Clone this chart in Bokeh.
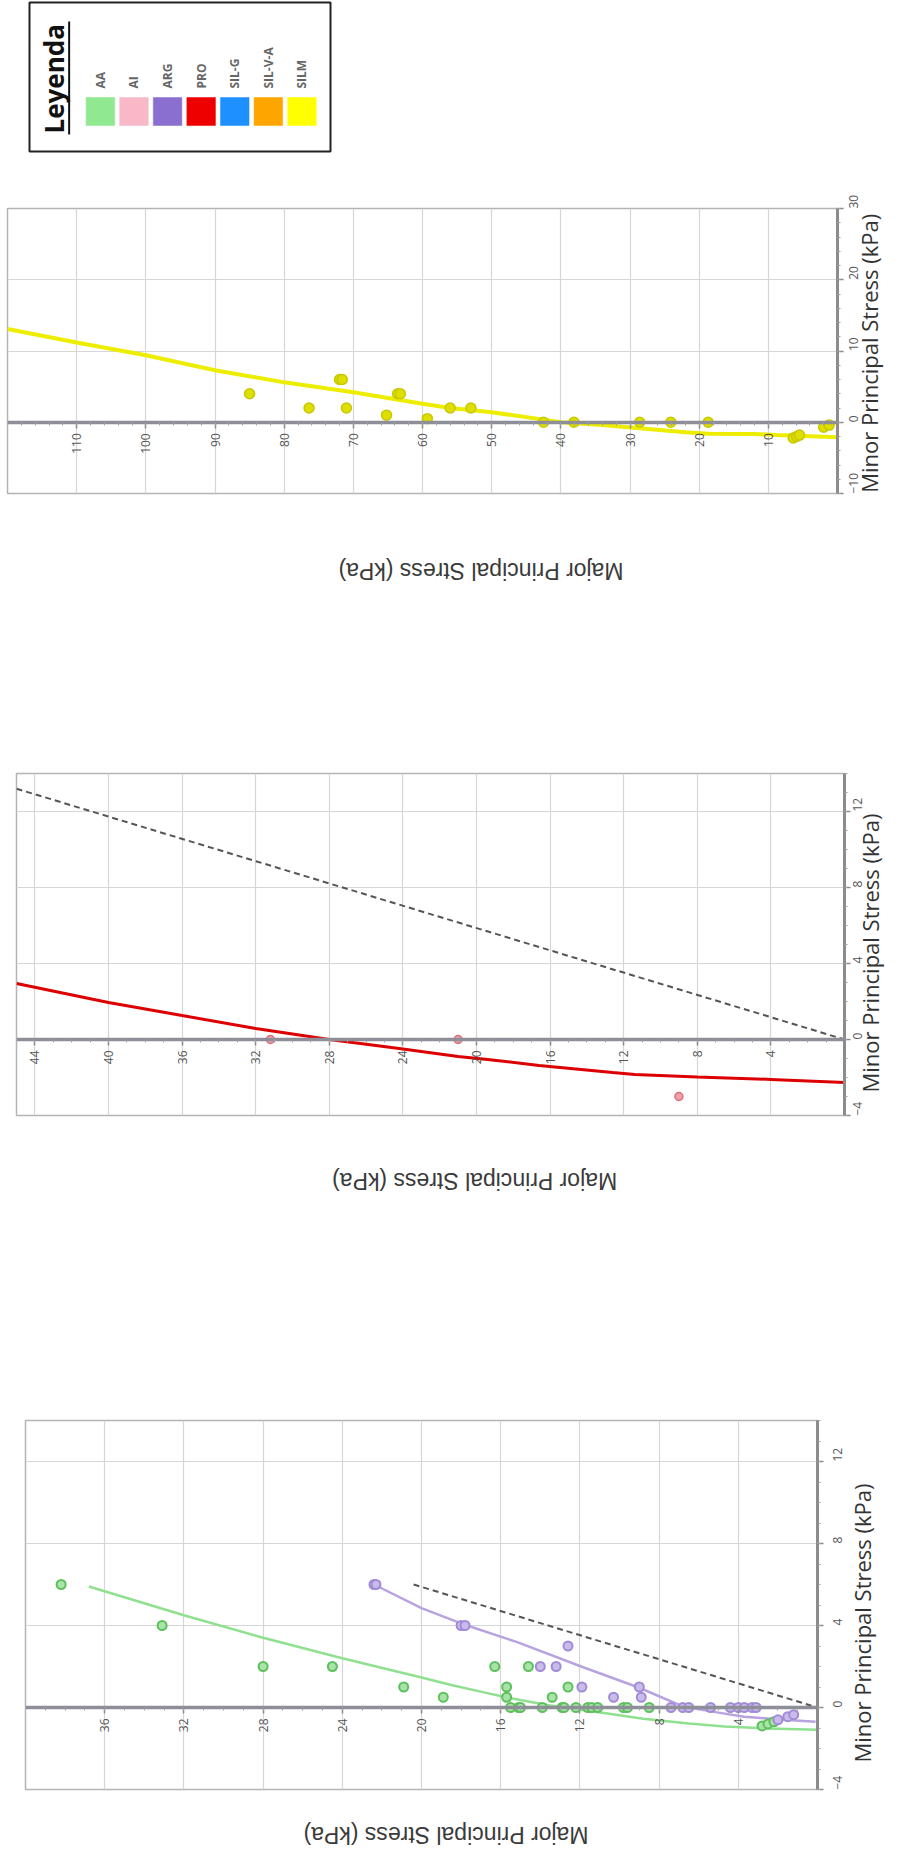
import math
from bokeh.plotting import figure
from bokeh.models import Range1d, FixedTicker, LinearAxis, ColumnDataSource
from bokeh.core.properties import value
from bokeh.embed import file_html
from bokeh.resources import INLINE

# ---------------- data ----------------
legend_names = ["AA", "AI", "ARG", "PRO", "SIL-G", "SIL-V-A", "SILM"]
legend_colors = ["#90e890", "#f8b8c8", "#8a6fd0", "#ee0000", "#1e90ff", "#ffa500", "#ffff00"]

# Panel 1 : AA (green) and ARG (purple)
aa_major = [38.2, 33.1, 28.0, 24.5, 20.9, 18.9, 16.3, 14.6, 15.7, 12.6, 15.7, 13.4,
            15.5, 15.1, 15.0, 13.9, 12.9, 12.8, 12.2, 11.6, 11.4, 11.1, 9.8, 9.6, 8.5,
            2.8, 2.5, 2.2]
aa_minor = [6, 4, 2, 2, 1, 0.5, 2, 2, 1, 1, 0.5, 0.5,
            0, 0, 0, 0, 0, 0, 0, 0, 0, 0, 0, 0, 0,
            -0.9, -0.8, -0.7]
aa_curve_major = [36.8, 32, 28, 24, 20, 18.5, 16.9, 15.5, 13.5, 11.3, 8.8, 6.5, 4.7, 2.5, 0]
aa_curve_minor = [5.9, 4.5, 3.4, 2.4, 1.46, 1.1, 0.75, 0.45, 0.1, -0.2, -0.55, -0.78, -0.93, -1.02, -1.08]

arg_major = [22.4, 22.3, 18.0, 17.8, 12.6, 14.0, 13.2, 11.9, 9.0, 10.3, 8.9,
             7.4, 6.8, 6.5, 5.4, 4.4, 4.0, 3.7, 3.3, 3.1, 2.0, 1.5, 1.2]
arg_minor = [6, 6, 4, 4, 3, 2, 2, 1, 1, 0.5, 0.5,
             0, 0, 0, 0, 0, 0, 0, 0, 0, -0.6, -0.45, -0.35]
arg_curve_major = [22.4, 20, 18.0, 15.2, 11.8, 9.1, 6.8, 5.0, 3.7, 1.7, 0.1]
arg_curve_minor = [6.0, 4.85, 4.1, 3.2, 1.95, 1.0, 0.05, -0.25, -0.45, -0.6, -0.7]

ref1_major = [20.4, 0]
ref1_minor = [6.0, 0]

# Panel 2 : PRO (red)
pro_major = [31.2, 21.0, 9.0]
pro_minor = [0, 0, -3.0]
pro_curve_major = [45, 40, 36, 32, 28, 24.2, 21.0, 19.4, 16.6, 12.6, 11.4, 8.0, 4.0, 0]
pro_curve_minor = [2.95, 1.95, 1.26, 0.58, 0.0, -0.47, -0.9, -1.05, -1.37, -1.74, -1.84, -1.98, -2.1, -2.26]
ref2_major = [45, 0]
ref2_minor = [13.2, 0]

# Panel 3 : SILM (yellow)
silm_major = [85, 76.4, 72, 71.6, 71, 65.2, 63.6, 63.2, 59.3, 56, 53, 42.5, 38.1,
              28.6, 24.1, 18.7, 6.4, 5.9, 5.5, 2.0, 1.2]
silm_minor = [4, 2, 6, 6, 2, 1, 4, 4, 0.5, 2, 2, 0, 0,
              0, 0, 0, -2.2, -2.0, -1.8, -0.7, -0.4]
silm_curve_major = [120, 110, 100, 90, 80, 70, 60, 56, 50, 42, 40, 34, 22, 18.6, 12, 8.8, 0]
silm_curve_minor = [13.1, 11.2, 9.4, 7.3, 5.6, 4.2, 2.6, 2.0, 1.4, 0.3, 0.0, -0.4, -1.4, -1.6, -1.65, -1.8, -2.1]

# tick labels
p1_major_ticks = [4, 8, 12, 16, 20, 24, 28, 32, 36]
p1_minor_ticks = [-4, 0, 4, 8, 12]
p2_major_ticks = [4, 8, 12, 16, 20, 24, 28, 32, 36, 40, 44]
p2_minor_ticks = [-4, 0, 4, 8, 12]
p3_major_ticks = [10, 20, 30, 40, 50, 60, 70, 80, 90, 100, 110]
p3_minor_ticks = [-10, 0, 10, 20, 30]

MINOR_TITLE = "Minor Principal Stress (kPa)"
MAJOR_TITLE = "Major Principal Stress (kPa)"

W = 902
GRID = "#d6d6d6"


def make_panel(fig_top, fig_h, b_top, b_bottom, b_left, b_right, xr, yr,
               xt, xm, yt, ym, tick_standoff, minor_start_py, minor_standoff,
               major_left_px, major_standoff):
    p = figure(width=W, height=fig_h, x_range=Range1d(*xr), y_range=Range1d(*yr),
               x_axis_location="below", y_axis_location="right",
               toolbar_location=None, tools="", output_backend="svg",
               min_border_top=b_top, min_border_bottom=b_bottom,
               min_border_left=b_left, min_border_right=b_right)
    p.background_fill_color = "white"
    p.border_fill_color = "white"
    p.outline_line_color = "#b4b4b4"
    p.outline_line_width = 1.5

    p.xaxis.ticker = FixedTicker(ticks=xt, minor_ticks=xm)
    p.yaxis.ticker = FixedTicker(ticks=yt, minor_ticks=ym)
    p.xaxis.fixed_location = 0
    for ax in (p.xaxis[0], p.yaxis[0]):
        ax.major_label_orientation = math.pi / 2
        ax.major_label_text_font = "Open Sans"
        ax.major_label_text_font_size = "12px"
        ax.major_label_text_color = "#555555"
        ax.major_tick_in = 0
        ax.major_tick_out = 6
        ax.minor_tick_in = 0
        ax.minor_tick_out = 3
        ax.major_tick_line_color = "#8c8c8c"
        ax.minor_tick_line_color = "#a0a0a0"
        ax.major_tick_line_width = 1.5
        ax.minor_tick_line_width = 1
    p.yaxis.major_label_standoff = tick_standoff
    p.xaxis.axis_line_color = "#8e8e99"
    p.xaxis.axis_line_width = 3.5
    p.yaxis.axis_line_color = "#8c8c8c"
    p.yaxis.axis_line_width = 3

    p.xgrid.grid_line_color = GRID
    p.ygrid.grid_line_color = GRID
    p.xgrid.grid_line_width = 1.2
    p.ygrid.grid_line_width = 1.2

    frame_w = W - b_left - b_right
    frame_h = fig_h - b_top - b_bottom
    frame_top = fig_top + b_top

    # Minor principal stress title: right side, reading upward, starting at minor_start_py
    ty = yr[1] - (minor_start_py - frame_top) / frame_h * (yr[1] - yr[0])
    ty = max(ty, yr[0] + 0.0025 * (yr[1] - yr[0]))
    tax = LinearAxis(ticker=FixedTicker(ticks=[ty], minor_ticks=[]),
                     major_label_overrides={ty: MINOR_TITLE},
                     major_label_orientation=math.pi / 2,
                     axis_line_color=None, major_tick_line_color=None,
                     minor_tick_line_color=None, major_tick_out=0, major_tick_in=0,
                     major_label_standoff=minor_standoff,
                     major_label_text_font="Open Sans",
                     major_label_text_font_size="22px",
                     major_label_text_color="#333333")
    p.add_layout(tax, "right")

    # Major principal stress title: below, upside down
    jx = xr[0] + (major_left_px - b_left) / frame_w * (xr[1] - xr[0])
    bax = LinearAxis(ticker=FixedTicker(ticks=[jx], minor_ticks=[]),
                     major_label_overrides={jx: MAJOR_TITLE},
                     major_label_orientation=math.pi,
                     axis_line_color=None, major_tick_line_color=None,
                     minor_tick_line_color=None, major_tick_out=0, major_tick_in=0,
                     major_label_standoff=major_standoff,
                     major_label_text_font="Liberation Sans",
                     major_label_text_font_size="23px",
                     major_label_text_color="#3a3a3a")
    p.add_layout(bax, "below")
    return p


# ---------------- legend ----------------
leg = figure(width=W, height=165, x_range=Range1d(-2.11, 6.85), y_range=Range1d(149, 0),
             x_axis_location=None, y_axis_location=None,
             toolbar_location=None, tools="", output_backend="svg",
             min_border_top=2, min_border_bottom=14, min_border_left=29, min_border_right=572)
leg.grid.visible = False
leg.outline_line_color = "#222222"
leg.outline_line_width = 2
leg.background_fill_color = "white"
leg.border_fill_color = "white"
idx = list(range(len(legend_names)))
lsrc = ColumnDataSource(dict(x=idx, name=legend_names, color=legend_colors,
                             ly=[86] * len(idx), sy=[109] * len(idx)))
leg.rect(x="x", y="sy", width=0.85, height=28, fill_color="color", line_color="color",
         line_alpha=0.5, source=lsrc)
leg.text(x="x", y="ly", text="name", angle=math.pi / 2, text_align="left",
         text_baseline="middle", text_font=value("Open Sans"), text_font_style="bold",
         text_font_size="12px", text_color="#666666", source=lsrc)
leg.text(x=[-1.37], y=[131], text=["Leyenda"], angle=math.pi / 2, text_align="left",
         text_baseline="middle", text_font=value("Open Sans"), text_font_style="bold",
         text_font_size="26px", text_color="#111111")
leg.segment(x0=[-0.93], y0=[132], x1=[-0.93], y1=[19], line_color="#111111", line_width=2)

# ---------------- SILM panel ----------------
p3 = make_panel(165, 515, 43, 187, 7, 65, (120, 0), (-10, 30),
                p3_major_ticks, list(range(2, 120, 2)), p3_minor_ticks, list(range(-10, 31, 2)),
                10, 499, 4, 338, 77)
p3.line(silm_curve_major, silm_curve_minor, line_color="#eded00", line_width=4)
p3.scatter(silm_major, silm_minor, size=10, fill_color="#dede00", line_color="#c8c800",
           line_width=1.5)

# ---------------- PRO panel ----------------
p2 = make_panel(680, 650, 93, 215, 16, 57, (45, 0), (-4, 14),
                p2_major_ticks, list(range(1, 45)), p2_minor_ticks, list(range(-4, 15)),
                7, 1092, 0, 332, 65)
p2.line(ref2_major, ref2_minor, line_color="#555555", line_width=2, line_dash="6 4")
p2.line(pro_curve_major, pro_curve_minor, line_color="#dd0000", line_width=3)
p2.scatter(pro_major, pro_minor, size=8, fill_color="#f0a0a8", line_color="#d9707a",
           line_width=1.5)

# ---------------- AA / ARG panel ----------------
p1 = make_panel(1330, 535, 90, 76, 25, 85, (40, 0), (-4, 14),
                p1_major_ticks, list(range(1, 40)), p1_minor_ticks, list(range(-4, 15)),
                14, 1762, 12, 303, 45)
p1.line(ref1_major, ref1_minor, line_color="#555555", line_width=2, line_dash="6 4")
p1.line(aa_curve_major, aa_curve_minor, line_color="#8fe08f", line_width=2.5)
p1.line(arg_curve_major, arg_curve_minor, line_color="#b7a3e0", line_width=2.5)
p1.scatter(aa_major, aa_minor, size=9, fill_color="#a8e4a8", line_color="#5fbf5f",
           line_width=2)
p1.scatter(arg_major, arg_minor, size=9, fill_color="#cbbbea", line_color="#a08cd6",
           line_width=2)

# separate roots so that the plot frames are not aligned with each other
open("out.html", "w").write(file_html([leg, p3, p2, p1], INLINE))
